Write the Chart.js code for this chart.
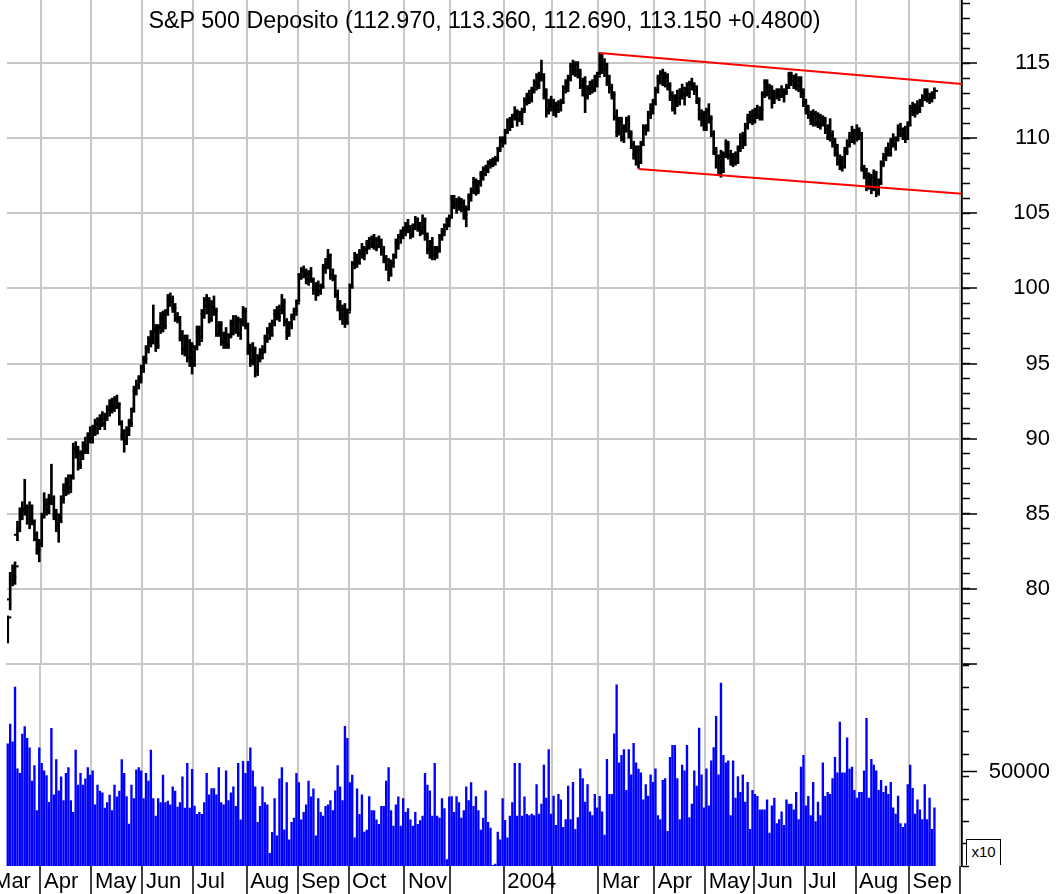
<!DOCTYPE html>
<html>
<head>
  <meta charset="UTF-8">
  <title>S&amp;P 500 Deposito</title>
  <script src="https://cdn.jsdelivr.net/npm/chart.js@4.4.1/dist/chart.umd.min.js"></script>
  <style>
    body { margin: 0; background: #fff; overflow: hidden; width: 1058px; height: 894px; position: relative;
           font-family: "Liberation Sans", Arial, sans-serif; }
    #priceChart { position: absolute; left: 0; top: 0; }
    #volChart { position: absolute; left: -20px; top: 665px; }
    #title { position: absolute; left: 7px; width: 955px; top: 7px; text-align: center;
             font-size: 23.3px; line-height: 27px; color: #000; white-space: nowrap; }
    #mult { position: absolute; left: 966px; top: 839px; width: 35px; height: 26px; box-sizing: border-box;
            border: 1.5px solid #000; border-bottom: none; font-size: 15px; line-height: 24px;
            text-align: center; color: #000; background: #fff; }
  </style>
  <script>
    // month ticks: Mar 2003 .. Sep 2004, trading days per month (first bar = 12 Mar 2003)
    const monthLabels = ['Mar', 'Apr', 'May', 'Jun', 'Jul', 'Aug', 'Sep', 'Oct', 'Nov', '', '2004', '', 'Mar', 'Apr', 'May', 'Jun', 'Jul', 'Aug', 'Sep', ''];
    const monthTradingDays = [21, 21, 21, 21, 22, 21, 21, 23, 19, 22, 20, 19, 23, 21, 20, 21, 21, 22, 21];
    const daysBeforeFirstBar = 7;

    // daily bars, one line per month
    const open = [
      76.6, 79.3, 80.6, 80.9, 83.6, 84.0, 85.3, 85.3, 85.0, 84.6, 85.4, 84.3, 83.3, 82.6,
      83.0, 85.0, 85.6, 85.3, 86.0, 85.7, 84.9, 84.4, 84.6, 86.0, 86.6, 87.0, 86.7, 87.5, 89.3, 89.1, 88.3, 89.0, 89.5, 89.3, 90.2,
      90.0, 90.6, 91.0, 90.9, 91.3, 91.0, 91.6, 91.9, 92.3, 92.1, 92.6, 92.2, 91.0, 90.2, 90.0, 90.6, 91.1, 92.0, 93.2, 93.6, 94.0,
      94.8, 95.3, 96.0, 96.4, 96.6, 97.2, 96.3, 97.4, 98.0, 97.6, 98.5, 99.2, 99.1, 98.7, 98.1, 97.9, 96.7, 96.0, 96.6, 95.4, 96.1,
      95.0, 96.1, 97.1, 96.8, 98.3, 98.8, 99.2, 98.0, 98.8, 98.4, 97.0, 97.5, 96.5, 96.9, 96.3, 96.9, 97.6, 97.3, 97.9, 97.0, 97.8, 98.4,
      97.5, 95.8, 95.2, 95.9, 94.5, 95.4, 95.7, 95.9, 96.7, 97.1, 97.0, 97.7, 98.3, 98.2, 98.6, 99.0, 97.8, 97.1, 97.6, 98.1, 98.5,
      99.2, 100.9, 101.2, 100.9, 100.6, 101.0, 100.5, 99.9, 100.1, 99.8, 100.2, 101.4, 101.6, 102.1, 100.9, 100.7, 99.6, 98.8, 98.3, 98.6, 97.8,
      98.6, 100.2, 101.6, 102.0, 101.8, 102.4, 102.3, 102.6, 103.0, 102.9, 103.3, 102.8, 103.2, 102.9, 102.5, 101.9, 101.5, 101.0, 101.7, 102.2, 103.0, 103.4, 103.6,
      103.9, 104.1, 103.8, 103.6, 104.2, 104.5, 104.0, 103.8, 104.5, 103.4, 102.6, 103.0, 102.2, 102.4, 102.6, 103.5, 103.8, 104.2, 104.5,
      104.8, 106.0, 105.6, 105.8, 105.4, 105.7, 104.9, 105.3, 106.1, 106.5, 107.0, 106.6, 107.1, 107.6, 107.9, 107.9, 108.3, 108.4, 108.6, 108.6, 109.3, 109.8,
      109.8, 110.4, 111.1, 110.8, 111.4, 111.6, 111.3, 111.7, 111.9, 112.5, 112.8, 112.6, 113.2, 113.7, 113.5, 114.1, 114.0, 112.9, 111.9, 112.4,
      112.1, 111.9, 112.2, 111.9, 112.4, 113.3, 113.7, 114.0, 114.8, 114.5, 114.9, 114.3, 113.5, 113.8, 112.9, 113.3, 113.5, 113.3, 113.9,
      114.3, 114.9, 114.6, 114.9, 113.7, 113.3, 112.9, 111.4, 110.4, 111.1, 110.1, 110.6, 111.2, 110.3, 109.6, 108.9, 109.1, 108.4, 109.7, 110.7, 110.6, 111.6, 112.0,
      112.3, 113.2, 114.0, 114.3, 113.8, 114.1, 113.5, 112.8, 112.0, 112.7, 112.4, 113.1, 112.9, 113.3, 113.0, 113.6, 113.4, 113.2, 112.5, 111.4, 111.6,
      110.7, 111.8, 111.3, 110.3, 109.1, 108.3, 108.7, 107.8, 108.9, 109.6, 108.9, 108.5, 108.8, 108.4, 109.3, 110.0, 109.6, 110.8, 111.3, 111.5,
      111.2, 111.8, 111.5, 111.9, 112.9, 113.7, 113.1, 113.4, 112.6, 113.0, 112.8, 113.2, 112.9, 113.1, 113.4, 114.2, 113.8, 114.0, 113.5, 113.8, 113.0,
      112.4, 111.9, 111.5, 111.2, 111.6, 111.0, 111.4, 110.9, 111.2, 110.6, 110.1, 110.2, 109.7, 109.0, 108.4, 108.6, 108.1, 109.1, 109.6, 110.1, 109.9,
      110.3, 110.5, 110.2, 108.0, 107.6, 106.8, 107.4, 106.6, 107.7, 106.4, 107.0, 108.3, 108.7, 109.2, 109.0, 109.8, 109.6, 109.9, 110.6, 110.3, 110.5, 110.0,
      110.9, 112.0, 111.8, 112.1, 111.9, 112.4, 112.7, 113.1, 112.6, 112.7, 112.97
    ];
    const high = [
      78.2, 81.1, 81.6, 81.8, 84.5, 85.4, 85.8, 87.3, 85.6, 85.8, 85.6, 84.6, 83.8, 83.3,
      85.0, 86.4, 86.0, 86.3, 88.3, 86.2, 85.3, 85.0, 86.2, 87.0, 87.4, 87.6, 87.6, 89.7, 89.8, 89.5, 89.2, 89.8, 90.1, 90.4, 90.8,
      90.9, 91.3, 91.4, 91.6, 91.8, 91.7, 92.2, 92.6, 92.7, 92.8, 92.9, 92.4, 91.2, 90.6, 90.8, 91.3, 92.0, 93.5, 93.9, 94.2, 94.9,
      95.5, 96.2, 96.8, 97.2, 98.9, 97.6, 97.6, 98.4, 98.5, 98.6, 99.6, 99.7, 99.5, 99.0, 98.4, 98.1, 97.2, 96.9, 96.9, 96.6, 96.4,
      96.2, 97.5, 97.5, 98.6, 99.4, 99.6, 99.4, 99.2, 99.5, 98.7, 97.8, 97.8, 97.1, 97.4, 97.0, 97.9, 98.2, 98.2, 98.1, 98.0, 98.8, 98.7,
      97.7, 96.3, 96.4, 96.1, 95.6, 96.0, 96.2, 96.9, 97.4, 97.7, 97.9, 98.6, 98.8, 98.9, 99.6, 99.3, 98.0, 97.8, 98.3, 98.7, 99.2,
      101.0, 101.4, 101.5, 101.3, 101.2, 101.4, 100.7, 100.4, 100.5, 100.3, 101.6, 102.0, 102.6, 102.3, 101.3, 100.9, 99.9, 99.2, 98.9, 99.0, 98.6,
      100.3, 101.8, 102.4, 102.3, 102.6, 103.0, 102.8, 103.2, 103.4, 103.5, 103.6, 103.4, 103.5, 103.3, 102.8, 102.2, 102.0, 101.9, 102.3, 103.3, 103.6, 103.9, 104.1,
      104.4, 104.6, 104.2, 104.3, 104.8, 104.7, 104.4, 104.9, 104.7, 103.7, 103.2, 103.4, 102.8, 102.8, 103.6, 104.0, 104.3, 104.7, 104.9,
      106.2, 106.2, 106.0, 106.1, 106.0, 105.9, 105.5, 106.3, 106.7, 107.4, 107.3, 107.2, 107.8, 108.1, 108.2, 108.5, 108.6, 108.7, 108.8, 109.4, 110.1, 110.1,
      110.6, 111.3, 111.4, 111.6, 112.1, 111.9, 111.8, 112.0, 112.7, 113.0, 113.2, 113.4, 113.9, 114.3, 114.4, 115.2, 114.3, 113.3, 112.6, 112.8,
      112.6, 112.4, 112.5, 112.6, 113.5, 113.9, 114.2, 115.0, 115.2, 115.1, 115.1, 114.6, 114.0, 114.1, 113.5, 113.8, 113.9, 114.2, 114.4,
      115.7, 115.6, 115.3, 115.0, 114.2, 113.6, 113.1, 111.9, 111.4, 111.4, 110.9, 111.4, 111.5, 110.5, 109.8, 109.5, 109.5, 109.8, 110.9, 110.9, 111.8, 112.3, 112.6,
      113.4, 114.2, 114.5, 114.6, 114.4, 114.3, 113.7, 113.1, 112.9, 113.2, 113.3, 113.6, 113.4, 113.7, 113.8, 114.0, 113.7, 113.5, 112.7, 111.9, 111.8,
      112.0, 112.3, 111.5, 110.5, 109.4, 108.9, 109.2, 109.1, 109.9, 109.8, 109.2, 109.0, 109.1, 109.5, 110.3, 110.4, 111.0, 111.6, 111.8, 111.9,
      112.0, 112.2, 112.1, 113.1, 113.9, 113.9, 113.6, 113.5, 113.2, 113.3, 113.3, 113.5, 113.3, 113.6, 114.4, 114.4, 114.2, 114.3, 114.1, 114.1, 113.3,
      112.6, 112.2, 111.8, 111.9, 111.8, 111.7, 111.6, 111.5, 111.4, 110.9, 111.3, 110.5, 110.0, 109.6, 108.9, 108.8, 109.4, 109.9, 110.4, 110.8, 110.6,
      110.9, 110.7, 110.4, 108.2, 108.0, 107.7, 107.6, 107.9, 107.8, 107.3, 108.5, 109.0, 109.4, 109.7, 110.0, 110.3, 110.1, 110.9, 111.0, 110.7, 110.8, 111.1,
      112.2, 112.4, 112.3, 112.5, 112.6, 112.9, 113.3, 113.3, 113.0, 113.1, 113.36
    ];
    const low = [
      76.4, 78.6, 80.2, 80.3, 83.2, 83.8, 84.6, 84.9, 84.3, 84.0, 84.3, 83.2, 82.3, 81.8,
      82.8, 84.7, 84.9, 85.0, 85.6, 84.6, 83.8, 83.1, 84.4, 85.7, 86.2, 86.3, 86.4, 87.3, 88.7, 87.9, 88.0, 88.6, 89.0, 89.0, 89.7,
      89.7, 90.2, 90.3, 90.6, 90.8, 90.6, 91.2, 91.5, 91.7, 91.8, 92.0, 90.9, 89.9, 89.1, 89.6, 90.2, 90.8, 91.8, 92.9, 93.3, 93.7,
      94.4, 95.0, 95.7, 96.1, 96.3, 95.8, 96.0, 97.0, 97.1, 97.3, 98.2, 98.8, 98.4, 97.8, 97.7, 96.5, 95.6, 95.5, 95.1, 94.8, 94.3,
      94.8, 95.9, 96.2, 96.6, 98.0, 98.3, 97.7, 97.8, 98.2, 96.8, 96.8, 96.2, 96.0, 96.0, 96.0, 96.7, 96.9, 97.0, 96.8, 96.6, 97.5, 97.3,
      95.6, 94.8, 94.9, 94.1, 94.2, 95.1, 95.3, 95.7, 96.4, 96.6, 96.8, 97.5, 97.9, 97.8, 98.3, 97.5, 96.6, 96.8, 97.3, 97.9, 98.2,
      99.1, 100.6, 100.7, 100.3, 100.2, 100.4, 99.6, 99.2, 99.5, 99.6, 100.0, 101.0, 101.3, 100.6, 100.5, 99.4, 98.5, 97.9, 97.6, 97.4, 97.6,
      98.5, 100.0, 101.3, 101.4, 101.6, 102.0, 101.9, 102.3, 102.6, 102.7, 102.6, 102.5, 102.7, 102.2, 101.7, 101.2, 100.5, 100.8, 101.4, 102.0, 102.6, 103.0, 103.3,
      103.5, 103.7, 103.3, 103.4, 103.9, 103.8, 103.5, 103.6, 103.2, 102.3, 102.0, 101.9, 101.9, 102.0, 102.4, 103.2, 103.5, 103.9, 104.1,
      104.7, 105.3, 105.0, 105.2, 105.1, 104.6, 104.1, 105.2, 105.8, 106.3, 106.2, 106.3, 106.8, 107.2, 107.5, 107.7, 108.0, 108.1, 108.2, 108.5, 109.1, 109.4,
      109.6, 110.3, 110.5, 110.7, 111.2, 110.8, 111.1, 110.9, 111.7, 112.2, 112.3, 112.4, 113.0, 113.2, 113.3, 113.8, 112.6, 111.4, 111.6, 111.8,
      111.5, 111.4, 111.7, 111.8, 112.3, 113.0, 113.1, 113.8, 114.2, 114.1, 114.0, 113.3, 112.8, 111.7, 112.6, 112.9, 113.0, 113.1, 113.4,
      114.2, 114.3, 114.1, 113.5, 113.0, 112.6, 111.2, 110.1, 110.2, 109.8, 109.7, 110.4, 110.0, 109.3, 108.6, 108.2, 108.0, 108.3, 109.5, 110.2, 110.5, 111.3, 111.6,
      112.2, 113.0, 113.6, 113.5, 113.4, 113.2, 112.5, 111.8, 111.6, 112.1, 112.2, 112.6, 112.2, 112.8, 112.7, 113.2, 112.9, 112.3, 111.2, 110.8, 110.5,
      110.5, 111.0, 110.1, 108.9, 108.0, 107.6, 107.4, 107.7, 108.7, 108.6, 108.2, 108.1, 108.2, 108.3, 109.1, 109.3, 109.5, 110.6, 111.0, 110.9,
      111.0, 111.3, 111.2, 111.2, 112.7, 112.8, 112.6, 112.0, 112.3, 112.6, 112.5, 112.7, 112.4, 112.9, 113.3, 113.5, 113.3, 113.2, 113.1, 112.7, 112.1,
      111.6, 111.3, 110.9, 110.8, 110.8, 110.7, 110.6, 110.8, 110.3, 109.9, 109.8, 109.4, 108.8, 108.2, 107.9, 107.8, 108.0, 108.9, 109.4, 109.7, 109.6,
      109.8, 109.9, 107.8, 107.3, 106.5, 106.6, 106.3, 106.5, 106.1, 106.2, 106.9, 108.1, 108.5, 108.8, 108.8, 109.4, 109.2, 109.8, 110.1, 109.9, 109.7, 109.9,
      110.8, 111.5, 111.4, 111.6, 111.7, 112.1, 112.5, 112.4, 112.3, 112.4, 112.69
    ];
    const close = [
      78.1, 80.6, 80.8, 81.5, 84.1, 85.2, 85.2, 85.4, 84.6, 85.4, 84.5, 83.6, 82.6, 83.0,
      84.8, 85.6, 85.2, 86.0, 85.8, 85.0, 84.2, 84.5, 86.0, 86.6, 87.1, 86.7, 87.4, 89.4, 89.2, 88.2, 89.0, 89.5, 89.2, 90.2, 90.0,
      90.6, 91.0, 90.8, 91.3, 91.0, 91.5, 91.9, 92.4, 92.0, 92.6, 92.3, 91.1, 90.2, 89.9, 90.6, 91.0, 91.8, 93.3, 93.6, 94.0, 94.6,
      95.3, 96.0, 96.5, 96.6, 97.3, 96.2, 97.4, 98.1, 97.5, 98.4, 99.3, 99.1, 98.7, 98.0, 98.1, 96.7, 95.9, 96.5, 95.4, 96.2, 94.9,
      96.0, 97.2, 96.5, 98.3, 98.9, 99.3, 97.9, 98.8, 98.5, 97.0, 97.6, 96.4, 96.9, 96.2, 96.8, 97.6, 97.2, 97.9, 97.0, 97.8, 98.5, 97.6,
      95.8, 95.1, 96.0, 94.5, 95.3, 95.7, 95.9, 96.6, 97.2, 96.9, 97.7, 98.3, 98.1, 98.6, 99.1, 97.8, 97.0, 97.6, 98.1, 98.5, 99.0,
      100.8, 101.2, 100.9, 100.6, 101.0, 100.6, 99.9, 100.2, 99.8, 100.1, 101.4, 101.6, 102.2, 100.9, 100.8, 99.6, 98.7, 98.2, 98.6, 97.7, 98.4,
      100.1, 101.6, 102.0, 101.7, 102.4, 102.2, 102.6, 103.0, 102.9, 103.3, 102.8, 103.2, 102.9, 102.5, 101.9, 101.5, 100.9, 101.7, 102.1, 103.0, 103.4, 103.7, 103.9,
      104.1, 103.9, 103.6, 104.2, 104.5, 104.0, 103.7, 104.6, 103.4, 102.6, 103.0, 102.2, 102.4, 102.5, 103.5, 103.8, 104.2, 104.5, 104.7,
      106.0, 105.6, 105.8, 105.4, 105.7, 104.9, 105.3, 106.1, 106.5, 107.1, 106.5, 107.0, 107.6, 107.9, 107.8, 108.3, 108.4, 108.6, 108.5, 109.3, 109.8, 109.7,
      110.4, 111.1, 110.8, 111.5, 111.6, 111.3, 111.6, 111.9, 112.5, 112.8, 112.6, 113.2, 113.7, 113.5, 114.2, 114.0, 112.9, 111.8, 112.4, 112.1,
      111.9, 112.2, 111.9, 112.4, 113.3, 113.6, 114.0, 114.8, 114.5, 114.9, 114.3, 113.5, 113.8, 112.9, 113.3, 113.5, 113.2, 113.9, 114.1,
      114.9, 114.6, 114.9, 113.7, 113.3, 112.9, 111.4, 110.4, 111.1, 110.0, 110.6, 111.2, 110.3, 109.6, 108.9, 109.2, 108.4, 109.6, 110.7, 110.5, 111.6, 112.0, 112.3,
      113.2, 114.0, 114.3, 113.8, 114.1, 113.5, 112.8, 112.0, 112.7, 112.4, 113.1, 112.9, 113.3, 113.0, 113.6, 113.4, 113.2, 112.5, 111.4, 111.6, 110.7,
      111.8, 111.3, 110.3, 109.1, 108.3, 108.7, 107.8, 108.9, 109.6, 108.9, 108.5, 108.8, 108.4, 109.3, 110.0, 109.6, 110.8, 111.3, 111.5, 111.2,
      111.8, 111.5, 111.9, 112.9, 113.7, 113.1, 113.4, 112.6, 113.0, 112.8, 113.2, 112.9, 113.1, 113.4, 114.2, 113.8, 114.0, 113.5, 113.8, 113.0, 112.4,
      111.9, 111.5, 111.2, 111.6, 111.0, 111.4, 110.9, 111.2, 110.6, 110.1, 110.2, 109.7, 109.0, 108.4, 108.6, 108.1, 109.1, 109.6, 110.1, 109.9, 110.3,
      110.5, 110.2, 108.0, 107.6, 106.8, 107.4, 106.6, 107.7, 106.4, 107.0, 108.3, 108.7, 109.2, 109.0, 109.8, 109.6, 109.9, 110.6, 110.3, 110.5, 110.0, 110.9,
      112.0, 111.8, 112.1, 111.9, 112.4, 112.7, 113.1, 112.6, 112.7, 112.67, 113.15
    ];
    const volume = [
      62600, 71600, 63500, 88500, 51200, 49200, 67100, 70500, 65100, 60800, 45600, 52700, 32200, 60800,
      53700, 50300, 48100, 35900, 69700, 39300, 55400, 41200, 47600, 36700, 49200, 51800, 36700, 31400, 59800, 43800, 49200, 43800, 46600, 51800, 48400,
      50300, 34800, 43800, 41000, 40200, 33300, 35800, 39200, 32200, 43800, 38400, 41000, 55400, 49200, 38500, 26000, 43800, 37600, 50700, 51800, 50300,
      37600, 49200, 45600, 59800, 37600, 29600, 37600, 35800, 48400, 35800, 36500, 34800, 43000, 41000, 33700, 35800, 47500, 33300, 53700, 33300, 51000,
      34200, 30400, 31300, 30400, 35800, 49200, 39300, 42200, 42200, 39300, 51800, 35800, 34800, 50300, 36700, 40200, 43000, 34100, 53700, 27900, 54600, 49200,
      54600, 60800, 50300, 43000, 26800, 34100, 43000, 35800, 34800, 12600, 22200, 37600, 20600, 46600, 51800, 23400, 44900, 18800, 26800, 28700, 49200,
      44900, 27900, 31300, 34800, 45600, 38400, 42100, 20600, 37600, 31400, 29600, 34100, 34800, 36700, 32200, 41200, 52700, 43000, 36700, 70600, 65100,
      44900, 48300, 19700, 42100, 30400, 39300, 22300, 23300, 38500, 32200, 32200, 27900, 25900, 34100, 34100, 45600, 51800, 32200, 25100, 34800, 38400, 25100, 37600,
      31300, 33100, 27900, 25100, 31300, 25900, 27600, 29600, 49200, 43800, 41200, 29600, 53700, 29600, 28700, 37600, 33100, 9800, 38400,
      38500, 31300, 38500, 35800, 28700, 32200, 43000, 36700, 44900, 34100, 38500, 32200, 23300, 28700, 41200, 26800, 24200, 7100, 7700, 22300, 18800, 37600,
      27700, 19700, 29600, 35800, 53700, 29600, 53700, 29600, 38400, 30400, 29900, 30600, 29900, 44000, 30600, 35100, 52900, 37900, 60000, 30600,
      38800, 25400, 39600, 37000, 24500, 28000, 43300, 28000, 45000, 23600, 29000, 51200, 46800, 36000, 44000, 31600, 29900, 39600, 33400,
      38600, 31600, 21000, 55500, 39600, 39600, 67200, 89500, 53900, 57400, 60000, 41400, 60000, 48500, 62800, 53900, 51100, 49400, 37000, 44000, 38800, 48500, 45000,
      51200, 29900, 28000, 45900, 46800, 22700, 56500, 61900, 61900, 46800, 28000, 52900, 50300, 61900, 29000, 35100, 50300, 43300, 69800, 48500, 33400,
      51200, 34300, 54800, 60900, 75200, 48500, 90400, 57400, 53900, 54800, 29900, 54800, 37900, 47700, 40500, 48500, 36000, 45000, 23600, 41400,
      39600, 38600, 32500, 32500, 32500, 37000, 21900, 34300, 37900, 26200, 28000, 31600, 25400, 37000, 35100, 35100, 32500, 40500, 28000, 52000, 57400,
      34300, 38600, 29900, 45000, 27100, 36000, 29900, 53900, 38600, 40500, 39600, 46800, 56500, 49400, 72600, 49400, 49400, 65400, 51100, 52000, 41400,
      37900, 40500, 40500, 50300, 74300, 37900, 55500, 52900, 50300, 41400, 45900, 40500, 43300, 39600, 45000, 33400, 30600, 38800, 26200, 24500, 26200, 44000,
      52900, 42300, 30600, 37000, 32500, 28000, 44000, 28000, 37900, 23600, 33400
    ];

    // channel lines (bar index, price)
    const upperX = [244, 393.4];
    const upperY = [115.68, 113.60];
    const lowerX = [260, 393.4];
    const lowerY = [107.95, 106.31];

    // axis ranges
    const priceMin = 75, priceMax = 119.2;
    const volMin = 6850, volMax = 98600;
  </script>
</head>
<body>
  <canvas id="priceChart" width="1058" height="665"></canvas>
  <canvas id="volChart" width="1078" height="229"></canvas>
  <div id="title"></div>
  <div id="mult">x10</div>

  <script>
    const FONT = { family: '"Liberation Sans", Arial, sans-serif', size: 22 };
    const GRID = 'rgb(200,200,200)';
    const xMax = 393.36;

    // month boundaries in bar-index units
    const monthStarts = [-daysBeforeFirstBar - 0.5];
    monthTradingDays.forEach(function(d) {
      monthStarts.push(monthStarts[monthStarts.length - 1] + d);
    });
    const setMonthTicks = function(s) {
      s.ticks = monthStarts.map(function(v) { return { value: v }; });
    };

    // title from the last bar
    const n = close.length - 1;
    const chg = close[n] - close[n - 1];
    document.getElementById('title').textContent = 'S&P 500 Deposito (' + open[n].toFixed(3) + ', ' +
      high[n].toFixed(3) + ', ' + low[n].toFixed(3) + ', ' + close[n].toFixed(3) + ' ' +
      (chg >= 0 ? '+' : '') + chg.toFixed(4) + ')';

    let hlBars = [];
    let openTicks = [];
    let closeTicks = [];
    for (let i = 0; i < close.length; i++) {
      hlBars.push({ x: i, y: [low[i], high[i]] });
      openTicks.push({ x: i - 0.74, y: open[i] });
      closeTicks.push({ x: i + 0.74, y: close[i] });
    }
    const upper = upperX.map(function(x, i) { return { x: x, y: upperY[i] }; });
    const lower = lowerX.map(function(x, i) { return { x: x, y: lowerY[i] }; });

    const tickDataset = function(data) {
      return {
        type: 'line', data: data, showLine: false,
        pointStyle: 'line', pointRadius: 1.8, pointBorderWidth: 2,
        pointBorderColor: '#000', pointBackgroundColor: '#000'
      };
    };

    new Chart(document.getElementById('priceChart'), {
      type: 'bar',
      data: {
        datasets: [
          { type: 'line', data: upper, borderColor: '#ff0000', borderWidth: 2, pointRadius: 0 },
          { type: 'line', data: lower, borderColor: '#ff0000', borderWidth: 2, pointRadius: 0 },
          { type: 'bar', data: hlBars, backgroundColor: '#000', barThickness: 2 },
          tickDataset(openTicks),
          tickDataset(closeTicks)
        ]
      },
      options: {
        responsive: false,
        animation: false,
        events: [],
        layout: { autoPadding: false, padding: { left: 7, right: 8, top: 0, bottom: 1 } },
        plugins: { legend: { display: false }, tooltip: { enabled: false } },
        scales: {
          x: {
            type: 'linear', min: -0.31, max: xMax, offset: false,
            grid: { color: GRID, lineWidth: 2, drawTicks: false, offset: false },
            border: { color: GRID, width: 2 },
            ticks: { display: false },
            afterBuildTicks: setMonthTicks,
            afterFit: function(s) { s.height = 0; s.paddingLeft = 0; s.paddingRight = 0; }
          },
          y: {
            position: 'right', weight: 1, min: priceMin, max: priceMax,
            grid: { color: GRID, lineWidth: 2, tickLength: 15, tickColor: '#000', tickWidth: 1.5 },
            border: { color: '#000', width: 1.5 },
            ticks: {
              stepSize: 5, includeBounds: false, crossAlign: 'far', padding: 36.3,
              color: '#000', font: FONT,
              callback: function(v) { return v === priceMin ? '' : String(v); }
            },
            afterFit: function(s) { s.width = 88; s.paddingTop = 0; s.paddingBottom = 0; }
          },
          yMinor: {
            position: 'right', weight: 0, min: priceMin, max: priceMax,
            grid: { drawOnChartArea: false, tickLength: 8, tickColor: '#000', tickWidth: 1.5 },
            border: { color: '#000', width: 1.5 },
            ticks: { stepSize: 1, includeBounds: false, display: false },
            afterFit: function(s) { s.width = 0; s.paddingTop = 0; s.paddingBottom = 0; }
          }
        }
      }
    });

    new Chart(document.getElementById('volChart'), {
      type: 'bar',
      data: {
        datasets: [{
          data: volume.map(function(v, i) { return { x: i, y: v }; }),
          backgroundColor: '#0000ff', barThickness: 1.7, base: volMin
        }]
      },
      options: {
        responsive: false,
        animation: false,
        events: [],
        layout: { autoPadding: false, padding: { left: 9.55, right: 8, top: 0, bottom: 0 } },
        plugins: { legend: { display: false }, tooltip: { enabled: false } },
        scales: {
          x: {
            type: 'linear', min: monthStarts[0], max: xMax, offset: false,
            grid: { color: GRID, lineWidth: 2, tickLength: 28, tickColor: '#000', tickWidth: 1.5, offset: false },
            border: { display: false },
            ticks: {
              autoSkip: false, maxRotation: 0, align: 'start', labelOffset: 3.5, padding: -25,
              color: '#000', font: FONT,
              callback: function(v, i) { return monthLabels[i]; }
            },
            afterBuildTicks: setMonthTicks,
            afterFit: function(s) { s.height = 28; s.paddingLeft = 0; s.paddingRight = 0; }
          },
          y: {
            position: 'right', weight: 1, min: volMin, max: volMax,
            grid: { drawOnChartArea: false, tickLength: 15, tickColor: '#000', tickWidth: 1.5 },
            border: { color: '#000', width: 1.5 },
            ticks: {
              crossAlign: 'far', padding: 11.8, color: '#000', font: FONT,
              callback: function(v) { return String(v); }
            },
            afterBuildTicks: function(s) { s.ticks = [{ value: 50000 }]; },
            afterFit: function(s) { s.width = 88; s.paddingTop = 0; s.paddingBottom = 0; }
          },
          yMinor: {
            position: 'right', weight: 0, min: volMin, max: volMax,
            grid: { drawOnChartArea: false, tickLength: 7, tickColor: '#000', tickWidth: 1.5 },
            border: { color: '#000', width: 1.5 },
            ticks: { stepSize: 10000, includeBounds: false, display: false },
            afterFit: function(s) { s.width = 0; s.paddingTop = 0; s.paddingBottom = 0; }
          }
        }
      }
    });
  </script>
</body>
</html>
